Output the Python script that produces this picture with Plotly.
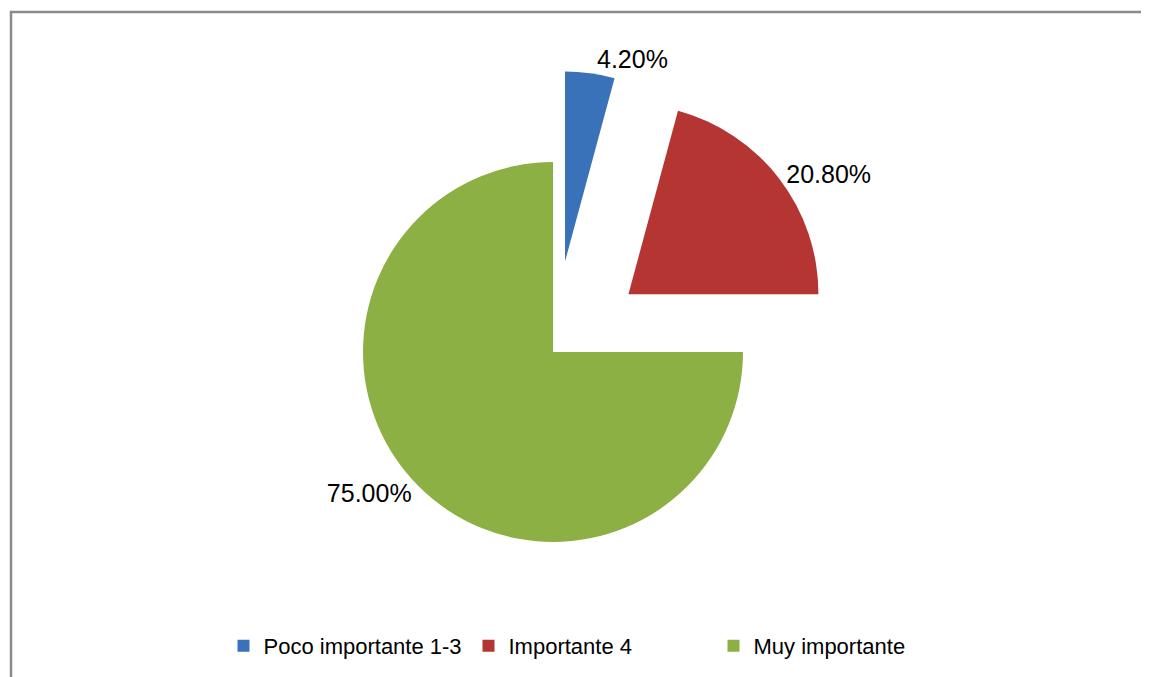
import plotly.graph_objects as go

labels = ["Poco importante 1-3", "Importante 4", "Muy importante"]
values = [4.2, 20.8, 75.0]
colors = ["#3A72BA", "#B53533", "#8CB043"]
pulls = [0.48, 0.5, 0.0]

W, H = 1149, 677
off = 8  # default page body margin
cx, cy, r = 553 - off, 352 - off, 190
half = r * (1 + max(pulls))

fig = go.Figure(go.Pie(
    labels=labels,
    values=values,
    sort=False,
    direction="clockwise",
    rotation=0,
    pull=pulls,
    marker=dict(colors=colors, line=dict(width=0)),
    textposition="outside",
    texttemplate="%{percent:.2%}",
    textfont=dict(family="Liberation Sans, Arial, sans-serif", size=25, color="#000000"),
    domain=dict(x=[(cx - half) / W, (cx + half) / W],
                y=[(H - cy - half) / H, (H - cy + half) / H]),
    hoverinfo="label+percent",
))

fig.update_layout(
    width=W, height=H,
    margin=dict(l=0, r=0, t=0, b=0, autoexpand=False),
    paper_bgcolor="white",
    plot_bgcolor="white",
    showlegend=True,
    legend=dict(
        orientation="h",
        x=(591 - off) / W, xanchor="center",
        y=(H - 646 + off) / H, yanchor="middle",
        font=dict(family="Liberation Sans, Arial, sans-serif", size=22, color="#000000"),
        itemwidth=30,
        entrywidth=200,
        entrywidthmode="pixels",
        traceorder="normal",
    ),
    shapes=[dict(
        type="rect", xref="paper", yref="paper",
        x0=(11 - off) / W, x1=1.05, y0=-0.05, y1=(H - 12 + off) / H,
        line=dict(color="#8A8A8A", width=2.5),
        fillcolor="rgba(0,0,0,0)",
        layer="below",
    )],
)

fig.write_html("out.html")
